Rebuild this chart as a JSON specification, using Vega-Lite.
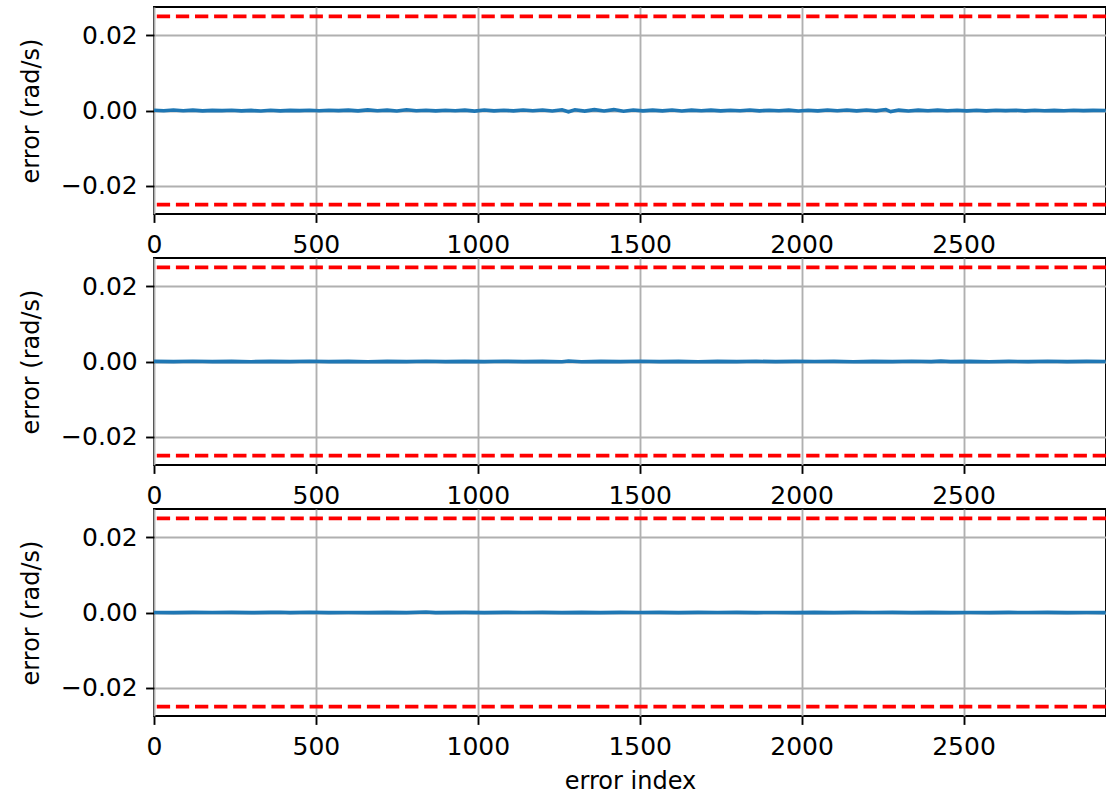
{
  "$schema": "https://vega.github.io/schema/vega-lite/v6.json",
  "padding": {"left": 18, "top": 6, "right": 1, "bottom": 5},
  "spacing": 44,
  "bounds": "flush",
  "config": {
    "font": "DejaVu Sans",
    "view": {"stroke": "black", "strokeWidth": 1.9},
    "axis": {
      "labelFont": "DejaVu Sans", "labelFontSize": 25, "labelColor": "black",
      "titleFont": "DejaVu Sans", "titleFontSize": 24, "titleFontWeight": "normal", "titleColor": "black",
      "tickColor": "black", "tickSize": 8.4, "tickWidth": 1.9, "labelPadding": 8.4,
      "domain": false, "grid": true, "gridColor": "#b0b0b0", "gridWidth": 1.9, "gridOpacity": 1
    },
    "axisX": {"labelFlush": false, "labelPadding": 10.5},
    "axisY": {"titlePadding": 17}
  },
  "datasets": {
    "err": [
      {"panel":1,"i":0,"e":0.00005},{"panel":1,"i":30,"e":-0.00008},{"panel":1,"i":60,"e":0.00012},{"panel":1,"i":90,"e":-0.00005},{"panel":1,"i":120,"e":0.00009},{"panel":1,"i":150,"e":-0.00011},{"panel":1,"i":180,"e":0.00003},{"panel":1,"i":210,"e":-0.00004},{"panel":1,"i":240,"e":0.00006},{"panel":1,"i":270,"e":-0.00009},{"panel":1,"i":300,"e":0.00002},{"panel":1,"i":330,"e":-0.00013},{"panel":1,"i":360,"e":0.00008},{"panel":1,"i":390,"e":-0.0001},{"panel":1,"i":420,"e":0.00004},{"panel":1,"i":450,"e":-0.00003},{"panel":1,"i":480,"e":0.00007},{"panel":1,"i":510,"e":-0.00006},{"panel":1,"i":540,"e":0.00005},{"panel":1,"i":570,"e":-0.00002},{"panel":1,"i":600,"e":0.00009},{"panel":1,"i":630,"e":-0.0001},{"panel":1,"i":660,"e":0.00016},{"panel":1,"i":690,"e":-0.00007},{"panel":1,"i":720,"e":0.00011},{"panel":1,"i":750,"e":-0.00012},{"panel":1,"i":780,"e":0.00018},{"panel":1,"i":810,"e":-0.00005},{"panel":1,"i":840,"e":0.00006},{"panel":1,"i":870,"e":-0.00009},{"panel":1,"i":900,"e":0.00007},{"panel":1,"i":930,"e":-0.00008},{"panel":1,"i":960,"e":0.0001},{"panel":1,"i":990,"e":-0.00016},{"panel":1,"i":1020,"e":0.00013},{"panel":1,"i":1050,"e":-0.00009},{"panel":1,"i":1080,"e":0.00008},{"panel":1,"i":1110,"e":-0.00011},{"panel":1,"i":1140,"e":0.00012},{"panel":1,"i":1170,"e":-0.00007},{"panel":1,"i":1200,"e":0.00015},{"panel":1,"i":1230,"e":-0.00014},{"panel":1,"i":1260,"e":0.0002},{"panel":1,"i":1280,"e":-0.00035},{"panel":1,"i":1300,"e":0.00019},{"panel":1,"i":1330,"e":-0.00016},{"panel":1,"i":1360,"e":0.00022},{"panel":1,"i":1390,"e":-0.00013},{"panel":1,"i":1420,"e":0.00024},{"panel":1,"i":1450,"e":-0.00018},{"panel":1,"i":1480,"e":0.00013},{"panel":1,"i":1510,"e":-0.0001},{"panel":1,"i":1540,"e":0.00011},{"panel":1,"i":1570,"e":-0.00009},{"panel":1,"i":1600,"e":0.00014},{"panel":1,"i":1630,"e":-0.00012},{"panel":1,"i":1660,"e":0.00009},{"panel":1,"i":1690,"e":-0.00008},{"panel":1,"i":1720,"e":0.0001},{"panel":1,"i":1750,"e":-0.00011},{"panel":1,"i":1780,"e":0.00007},{"panel":1,"i":1810,"e":-0.00006},{"panel":1,"i":1840,"e":0.00015},{"panel":1,"i":1870,"e":-0.00009},{"panel":1,"i":1900,"e":0.00008},{"panel":1,"i":1930,"e":-0.00007},{"panel":1,"i":1960,"e":0.00009},{"panel":1,"i":1990,"e":-0.00012},{"panel":1,"i":2020,"e":0.00006},{"panel":1,"i":2050,"e":-0.0001},{"panel":1,"i":2080,"e":0.00012},{"panel":1,"i":2110,"e":-0.00008},{"panel":1,"i":2140,"e":0.00015},{"panel":1,"i":2170,"e":-0.0001},{"panel":1,"i":2200,"e":0.00013},{"panel":1,"i":2230,"e":-0.00009},{"panel":1,"i":2260,"e":0.00026},{"panel":1,"i":2275,"e":-0.00028},{"panel":1,"i":2300,"e":0.00011},{"panel":1,"i":2330,"e":-0.00013},{"panel":1,"i":2360,"e":0.00009},{"panel":1,"i":2390,"e":-0.00008},{"panel":1,"i":2420,"e":0.0001},{"panel":1,"i":2450,"e":-0.00006},{"panel":1,"i":2480,"e":0.00008},{"panel":1,"i":2510,"e":-0.00009},{"panel":1,"i":2540,"e":0.00005},{"panel":1,"i":2570,"e":-0.00011},{"panel":1,"i":2600,"e":0.00006},{"panel":1,"i":2630,"e":-0.00004},{"panel":1,"i":2660,"e":0.00007},{"panel":1,"i":2690,"e":-0.00009},{"panel":1,"i":2720,"e":0.00005},{"panel":1,"i":2750,"e":-0.00006},{"panel":1,"i":2780,"e":0.00004},{"panel":1,"i":2810,"e":-0.00005},{"panel":1,"i":2840,"e":0.00006},{"panel":1,"i":2870,"e":-0.00003},{"panel":1,"i":2900,"e":0.00004},{"panel":1,"i":2939,"e":-0.00002},
      {"panel":2,"i":0,"e":0.00003},{"panel":2,"i":60,"e":-0.00004},{"panel":2,"i":120,"e":0.00005},{"panel":2,"i":180,"e":-0.00003},{"panel":2,"i":240,"e":0.00002},{"panel":2,"i":300,"e":-0.00005},{"panel":2,"i":360,"e":0.00004},{"panel":2,"i":420,"e":-0.00002},{"panel":2,"i":480,"e":0.00006},{"panel":2,"i":540,"e":-0.00004},{"panel":2,"i":600,"e":0.00003},{"panel":2,"i":660,"e":-0.00005},{"panel":2,"i":720,"e":0.00004},{"panel":2,"i":780,"e":-0.00003},{"panel":2,"i":840,"e":0.00005},{"panel":2,"i":900,"e":-0.00002},{"panel":2,"i":960,"e":0.00003},{"panel":2,"i":1020,"e":-0.00004},{"panel":2,"i":1080,"e":0.00005},{"panel":2,"i":1140,"e":-0.00003},{"panel":2,"i":1200,"e":0.00004},{"panel":2,"i":1260,"e":-0.00005},{"panel":2,"i":1280,"e":0.00013},{"panel":2,"i":1320,"e":-0.00006},{"panel":2,"i":1380,"e":0.00004},{"panel":2,"i":1440,"e":-0.00003},{"panel":2,"i":1500,"e":0.00005},{"panel":2,"i":1560,"e":-0.00004},{"panel":2,"i":1620,"e":0.00003},{"panel":2,"i":1680,"e":-0.00005},{"panel":2,"i":1740,"e":0.00004},{"panel":2,"i":1800,"e":-0.00003},{"panel":2,"i":1860,"e":0.00005},{"panel":2,"i":1920,"e":-0.00004},{"panel":2,"i":1980,"e":0.00003},{"panel":2,"i":2040,"e":-0.00002},{"panel":2,"i":2100,"e":0.00004},{"panel":2,"i":2160,"e":-0.00005},{"panel":2,"i":2220,"e":0.00003},{"panel":2,"i":2280,"e":-0.00004},{"panel":2,"i":2340,"e":0.00005},{"panel":2,"i":2400,"e":-0.00003},{"panel":2,"i":2430,"e":0.00011},{"panel":2,"i":2460,"e":-0.00004},{"panel":2,"i":2520,"e":0.00003},{"panel":2,"i":2580,"e":-0.00005},{"panel":2,"i":2640,"e":0.00004},{"panel":2,"i":2700,"e":-0.00003},{"panel":2,"i":2760,"e":0.00005},{"panel":2,"i":2820,"e":-0.00004},{"panel":2,"i":2880,"e":0.00003},{"panel":2,"i":2939,"e":-0.00002},
      {"panel":3,"i":0,"e":0.00002},{"panel":3,"i":60,"e":-0.00003},{"panel":3,"i":120,"e":0.00004},{"panel":3,"i":180,"e":-0.00002},{"panel":3,"i":240,"e":0.00003},{"panel":3,"i":300,"e":-0.00004},{"panel":3,"i":360,"e":0.00003},{"panel":3,"i":390,"e":0.00007},{"panel":3,"i":420,"e":-0.00003},{"panel":3,"i":480,"e":0.00008},{"panel":3,"i":540,"e":-0.00003},{"panel":3,"i":600,"e":0.00002},{"panel":3,"i":660,"e":-0.00004},{"panel":3,"i":720,"e":0.00003},{"panel":3,"i":780,"e":-0.00002},{"panel":3,"i":840,"e":0.00012},{"panel":3,"i":870,"e":-0.00004},{"panel":3,"i":960,"e":0.00003},{"panel":3,"i":1020,"e":-0.00003},{"panel":3,"i":1080,"e":0.00004},{"panel":3,"i":1140,"e":-0.00002},{"panel":3,"i":1200,"e":0.00003},{"panel":3,"i":1260,"e":-0.00004},{"panel":3,"i":1320,"e":0.00003},{"panel":3,"i":1380,"e":-0.00003},{"panel":3,"i":1440,"e":0.00004},{"panel":3,"i":1500,"e":-0.00002},{"panel":3,"i":1560,"e":0.00003},{"panel":3,"i":1620,"e":-0.00004},{"panel":3,"i":1680,"e":0.00003},{"panel":3,"i":1740,"e":-0.00002},{"panel":3,"i":1800,"e":0.00004},{"panel":3,"i":1860,"e":-0.00003},{"panel":3,"i":1920,"e":0.00002},{"panel":3,"i":1980,"e":-0.00003},{"panel":3,"i":2040,"e":0.00004},{"panel":3,"i":2100,"e":-0.00004},{"panel":3,"i":2160,"e":0.00003},{"panel":3,"i":2220,"e":-0.00002},{"panel":3,"i":2280,"e":0.00004},{"panel":3,"i":2340,"e":-0.00003},{"panel":3,"i":2400,"e":0.00003},{"panel":3,"i":2460,"e":-0.00004},{"panel":3,"i":2520,"e":0.00002},{"panel":3,"i":2580,"e":-0.00003},{"panel":3,"i":2640,"e":0.00004},{"panel":3,"i":2700,"e":-0.00002},{"panel":3,"i":2760,"e":0.00003},{"panel":3,"i":2820,"e":-0.00004},{"panel":3,"i":2880,"e":0.00002},{"panel":3,"i":2939,"e":-0.00003}
    ],
    "limits": [{"lim": 0.025}, {"lim": -0.025}]
  },
  "vconcat": [
    {
      "width": 952, "height": 207,
      "layer": [
        {
          "data": {"name": "err"},
          "transform": [{"filter": "datum.panel == 1"}],
          "mark": {"type": "line", "color": "#1f77b4", "strokeWidth": 3.6, "clip": true},
          "encoding": {
            "x": {"field": "i", "type": "quantitative", "scale": {"domain": [0, 2940], "nice": false, "zero": false}, "axis": {"values": [0, 500, 1000, 1500, 2000, 2500], "format": "d", "title": null}},
            "y": {"field": "e", "type": "quantitative", "scale": {"domain": [-0.0275, 0.0275], "nice": false, "zero": false}, "axis": {"values": [-0.02, 0, 0.02], "format": ".2f", "title": "error (rad/s)"}}
          }
        },
        {
          "data": {"name": "limits"},
          "mark": {"type": "rule", "color": "#ff0000", "strokeWidth": 3.6, "strokeDash": [13.3, 5.8]},
          "encoding": {"y": {"field": "lim", "type": "quantitative"}}
        }
      ]
    },
    {
      "width": 952, "height": 207,
      "layer": [
        {
          "data": {"name": "err"},
          "transform": [{"filter": "datum.panel == 2"}],
          "mark": {"type": "line", "color": "#1f77b4", "strokeWidth": 3.6, "clip": true},
          "encoding": {
            "x": {"field": "i", "type": "quantitative", "scale": {"domain": [0, 2940], "nice": false, "zero": false}, "axis": {"values": [0, 500, 1000, 1500, 2000, 2500], "format": "d", "title": null}},
            "y": {"field": "e", "type": "quantitative", "scale": {"domain": [-0.0275, 0.0275], "nice": false, "zero": false}, "axis": {"values": [-0.02, 0, 0.02], "format": ".2f", "title": "error (rad/s)"}}
          }
        },
        {
          "data": {"name": "limits"},
          "mark": {"type": "rule", "color": "#ff0000", "strokeWidth": 3.6, "strokeDash": [13.3, 5.8]},
          "encoding": {"y": {"field": "lim", "type": "quantitative"}}
        }
      ]
    },
    {
      "width": 952, "height": 207,
      "layer": [
        {
          "data": {"name": "err"},
          "transform": [{"filter": "datum.panel == 3"}],
          "mark": {"type": "line", "color": "#1f77b4", "strokeWidth": 3.6, "clip": true},
          "encoding": {
            "x": {"field": "i", "type": "quantitative", "scale": {"domain": [0, 2940], "nice": false, "zero": false}, "axis": {"values": [0, 500, 1000, 1500, 2000, 2500], "format": "d", "title": "error index", "titlePadding": 10}},
            "y": {"field": "e", "type": "quantitative", "scale": {"domain": [-0.0275, 0.0275], "nice": false, "zero": false}, "axis": {"values": [-0.02, 0, 0.02], "format": ".2f", "title": "error (rad/s)"}}
          }
        },
        {
          "data": {"name": "limits"},
          "mark": {"type": "rule", "color": "#ff0000", "strokeWidth": 3.6, "strokeDash": [13.3, 5.8]},
          "encoding": {"y": {"field": "lim", "type": "quantitative"}}
        }
      ]
    }
  ]
}
